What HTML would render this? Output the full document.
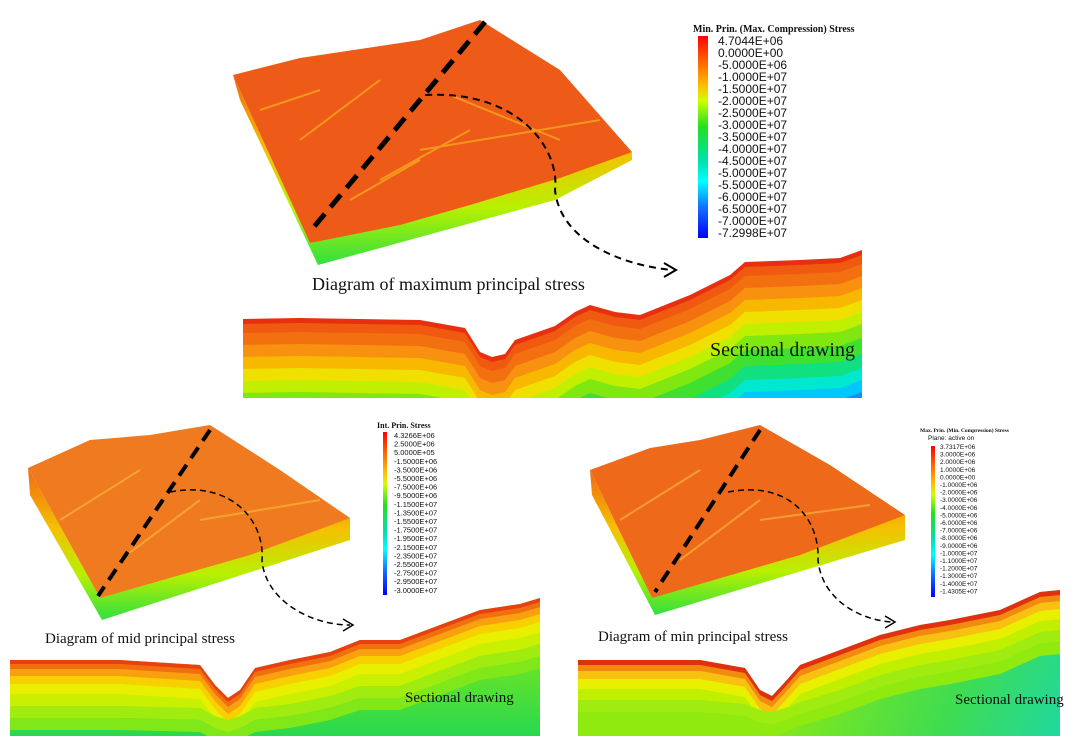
<!DOCTYPE html>
<html><head><meta charset="utf-8"><style>
html,body{margin:0;padding:0;background:#fff;width:1080px;height:747px;overflow:hidden}
svg{display:block}
.lg{font-family:"Liberation Sans",sans-serif;fill:#111}
.ti{font-family:"Liberation Serif",serif;font-weight:bold;fill:#111}
.cap{font-family:"Liberation Serif",serif;fill:#111}
</style></head><body>
<svg width="1080" height="747" viewBox="0 0 1080 747" xmlns="http://www.w3.org/2000/svg">
<defs>
<linearGradient id="side" x1="0" y1="0" x2="0" y2="1">
<stop offset="0" stop-color="#f06a10"/><stop offset="0.4" stop-color="#f5c000"/><stop offset="0.7" stop-color="#b8f000"/><stop offset="1" stop-color="#30e040"/></linearGradient>
<linearGradient id="bar1" x1="0" y1="0" x2="0" y2="1">
<stop offset="0" stop-color="#ff0000"/><stop offset="0.12" stop-color="#ff6000"/><stop offset="0.25" stop-color="#ffc000"/><stop offset="0.32" stop-color="#d0ff00"/><stop offset="0.45" stop-color="#20e020"/><stop offset="0.62" stop-color="#00e0b0"/><stop offset="0.72" stop-color="#00ffff"/><stop offset="0.85" stop-color="#1070ff"/><stop offset="1" stop-color="#0000ff"/></linearGradient>
<linearGradient id="bg2" gradientUnits="userSpaceOnUse" x1="0" y1="640" x2="0" y2="736">
<stop offset="0" stop-color="#80e818"/><stop offset="1" stop-color="#28d850"/></linearGradient>
<linearGradient id="bg3" gradientUnits="userSpaceOnUse" x1="800" y1="620" x2="1060" y2="740">
<stop offset="0" stop-color="#90ea10"/><stop offset="0.6" stop-color="#40dc50"/><stop offset="1" stop-color="#20d8a0"/></linearGradient>
<path id="p1" d="M243,319 L300,318 L420,320 L465,328 L480,352 L492,357 L505,354 L515,340 L555,326 L575,312 L590,305 L615,312 L640,315 L690,295 L730,275 L745,262 L800,260 L840,258 L862,250 L862,600 L243,600Z"/>
<path id="b2" d="M10,660 L120,660 L200,665 L215,685 L228,698 L240,690 L255,668 L290,660 L330,652 L360,640 L400,640 L440,625 L480,610 L520,604 L540,598 L540,610 L520,616 L480,622 L440,637 L400,652 L360,652 L330,664 L290,672 L255,680 L240,702 L228,710 L215,697 L200,677 L120,672 L10,672Z"/>
<path id="f2" d="M10,660 L120,660 L200,662 L215,670 L228,674 L240,670 L255,662 L290,658 L330,650 L360,640 L400,640 L440,625 L480,610 L520,604 L540,598 L540,610 L520,616 L480,622 L440,637 L400,652 L360,652 L330,662 L290,670 L255,674 L240,682 L228,686 L215,682 L200,674 L120,672 L10,672Z"/>
<path id="b3" d="M578,660 L700,660 L745,668 L760,690 L772,696 L785,682 L800,665 L840,650 L880,635 L920,625 L950,620 L1000,610 L1040,592 L1060,590 L1060,602 L1040,604 L1000,622 L950,632 L920,637 L880,647 L840,662 L800,677 L785,694 L772,708 L760,702 L745,680 L700,672 L578,672Z"/>
<path id="f3" d="M578,660 L700,660 L745,664 L760,670 L772,672 L785,668 L800,662 L840,650 L880,635 L920,625 L950,620 L1000,610 L1040,592 L1060,590 L1060,602 L1040,604 L1000,622 L950,632 L920,637 L880,647 L840,662 L800,674 L785,680 L772,684 L760,682 L745,676 L700,672 L578,672Z"/>
<clipPath id="c1"><rect x="243" y="240" width="619" height="158"/></clipPath>
<clipPath id="c2"><rect x="10" y="590" width="530" height="146"/></clipPath>
<clipPath id="c3"><rect x="578" y="585" width="482" height="151"/></clipPath>
</defs>

<polygon points="233,75 240,100 318,265 555,200 632,160 632,152 310,243" fill="url(#side)"/>
<polygon points="233,75 300,58 420,40 480,20 560,70 632,152 560,178 470,205 400,225 310,243" fill="#ee5a18"/>
<path d="M260,110 L320,90 M300,140 L380,80 M420,150 L600,120 M350,200 L420,160 M380,180 L470,130 M450,95 L560,140" stroke="#f8c020" stroke-width="2" fill="none" opacity="0.6"/>
<line x1="485" y1="22" x2="313" y2="228" stroke="#000" stroke-width="5" stroke-dasharray="16,9"/>
<path d="M425,95 C520,90 560,150 555,190 C560,240 620,265 672,270" stroke="#000" stroke-width="2" fill="none" stroke-dasharray="7,5"/>
<path d="M664,263 L676,270 L664,277" stroke="#000" stroke-width="2" fill="none"/>

<g clip-path="url(#c1)">
<use href="#p1" fill="#e83010"/>
<use href="#p1" fill="#f05a10" transform="translate(0,5)"/>
<use href="#p1" fill="#f27010" transform="translate(0,14)"/>
<use href="#p1" fill="#f89010" transform="translate(0,26)"/>
<use href="#p1" fill="#f8b800" transform="translate(0,38)"/>
<use href="#p1" fill="#f0e000" transform="translate(0,50)"/>
<use href="#p1" fill="#c0f000" transform="translate(0,62)"/>
<use href="#p1" fill="#80e810" transform="translate(0,74)"/>
<use href="#p1" fill="#40e030" transform="translate(0,88)"/>
<use href="#p1" fill="#10e080" transform="translate(0,104)"/>
<use href="#p1" fill="#00e8d0" transform="translate(0,118)"/>
<use href="#p1" fill="#00c8ff" transform="translate(0,130)"/>
<use href="#p1" fill="#1090ff" transform="translate(0,142)"/>
</g>
<text class="cap" x="312" y="290" font-size="18">Diagram of maximum principal stress</text>
<text class="cap" x="710" y="356" font-size="20">Sectional drawing</text>

<text class="ti" x="693" y="32" font-size="10">Min. Prin. (Max. Compression) Stress</text>
<rect x="698" y="36" width="10" height="202" fill="url(#bar1)"/>
<g class="lg" font-size="12">
<text x="718" y="45">4.7044E+06</text><text x="718" y="57">0.0000E+00</text><text x="718" y="69">-5.0000E+06</text><text x="718" y="81">-1.0000E+07</text><text x="718" y="93">-1.5000E+07</text><text x="718" y="105">-2.0000E+07</text><text x="718" y="117">-2.5000E+07</text><text x="718" y="129">-3.0000E+07</text><text x="718" y="141">-3.5000E+07</text><text x="718" y="153">-4.0000E+07</text><text x="718" y="165">-4.5000E+07</text><text x="718" y="177">-5.0000E+07</text><text x="718" y="189">-5.5000E+07</text><text x="718" y="201">-6.0000E+07</text><text x="718" y="213">-6.5000E+07</text><text x="718" y="225">-7.0000E+07</text><text x="718" y="237">-7.2998E+07</text>
</g>

<polygon points="28,468 30,495 102,620 350,540 350,518 100,598" fill="url(#side)"/>
<polygon points="28,468 90,440 150,435 210,425 280,470 350,518 250,555 100,598" fill="#ef7a20"/>
<path d="M60,520 L140,470 M120,560 L200,500 M200,520 L320,500" stroke="#f8c040" stroke-width="2" opacity="0.6" fill="none"/>
<line x1="210" y1="430" x2="98" y2="596" stroke="#000" stroke-width="4" stroke-dasharray="13,8"/>
<path d="M170,492 C230,480 265,520 262,560 C265,600 310,625 350,625" stroke="#000" stroke-width="1.5" fill="none" stroke-dasharray="6,4"/>
<path d="M343,619 L353,625 L343,631" stroke="#000" stroke-width="1.5" fill="none"/>
<g clip-path="url(#c2)">
<path d="M10,660 L120,660 L200,665 L215,685 L228,698 L240,690 L255,668 L290,660 L330,652 L360,640 L400,640 L440,625 L480,610 L520,604 L540,598 L540,736 L10,736Z" fill="url(#bg2)"/>
<use href="#b2" fill="#e84010"/>
<use href="#b2" fill="#f07010" transform="translate(0,4)"/>
<use href="#b2" fill="#f8a010" transform="translate(0,9)"/>
<use href="#b2" fill="#f8d000" transform="translate(0,16)"/>
<use href="#b2" fill="#e8f000" transform="translate(0,24)"/>
<use href="#b2" fill="#c8f000" transform="translate(0,34)"/>
<use href="#f2" fill="#a0ec10" transform="translate(0,46)"/>
<use href="#f2" fill="#80e818" transform="translate(0,58)"/>
</g>
<text class="cap" x="45" y="643" font-size="15">Diagram of mid principal stress</text>
<text class="cap" x="405" y="702" font-size="15">Sectional drawing</text>
<text class="ti" x="377" y="428" font-size="8">Int. Prin. Stress</text>
<rect x="383" y="432" width="4" height="163" fill="url(#bar1)"/>
<g class="lg" font-size="7.5">
<text x="394" y="438">4.3266E+06</text><text x="394" y="446.6">2.5000E+06</text><text x="394" y="455.2">5.0000E+05</text><text x="394" y="463.8">-1.5000E+06</text><text x="394" y="472.4">-3.5000E+06</text><text x="394" y="481">-5.5000E+06</text><text x="394" y="489.6">-7.5000E+06</text><text x="394" y="498.2">-9.5000E+06</text><text x="394" y="506.8">-1.1500E+07</text><text x="394" y="515.4">-1.3500E+07</text><text x="394" y="524">-1.5500E+07</text><text x="394" y="532.6">-1.7500E+07</text><text x="394" y="541.2">-1.9500E+07</text><text x="394" y="549.8">-2.1500E+07</text><text x="394" y="558.4">-2.3500E+07</text><text x="394" y="567">-2.5500E+07</text><text x="394" y="575.6">-2.7500E+07</text><text x="394" y="584.2">-2.9500E+07</text><text x="394" y="592.8">-3.0000E+07</text>
</g>

<polygon points="590,470 592,495 655,615 905,540 905,515 652,598" fill="url(#side)"/>
<polygon points="590,470 650,448 700,440 760,425 830,465 905,515 800,555 652,598" fill="#ee6a1a"/>
<path d="M620,520 L700,470 M680,560 L760,500 M760,520 L870,505" stroke="#f8c040" stroke-width="2" opacity="0.6" fill="none"/>
<line x1="760" y1="430" x2="655" y2="592" stroke="#000" stroke-width="4" stroke-dasharray="13,8"/>
<path d="M728,492 C790,480 820,520 818,560 C822,600 860,620 892,622" stroke="#000" stroke-width="1.5" fill="none" stroke-dasharray="6,4"/>
<path d="M885,616 L895,622 L885,628" stroke="#000" stroke-width="1.5" fill="none"/>
<g clip-path="url(#c3)">
<path d="M578,660 L700,660 L745,668 L760,690 L772,696 L785,682 L800,665 L840,650 L880,635 L920,625 L950,620 L1000,610 L1040,592 L1060,590 L1060,736 L578,736Z" fill="url(#bg3)"/>
<use href="#b3" fill="#e03010"/>
<use href="#b3" fill="#f28a10" transform="translate(0,5)"/>
<use href="#b3" fill="#f8c010" transform="translate(0,11)"/>
<use href="#b3" fill="#e8f000" transform="translate(0,19)"/>
<use href="#b3" fill="#c0f000" transform="translate(0,29)"/>
<use href="#f3" fill="#a0ec10" transform="translate(0,40)"/>
<use href="#f3" fill="#90ea10" transform="translate(0,52)"/>
</g>
<text class="cap" x="598" y="641" font-size="15">Diagram of min principal stress</text>
<text class="cap" x="955" y="704" font-size="15">Sectional drawing</text>
<text class="ti" x="920" y="432" font-size="5.5">Max. Prin. (Min. Compression) Stress</text>
<text class="lg" x="928" y="440" font-size="6.5">Plane: active on</text>
<rect x="931" y="446" width="4" height="151" fill="url(#bar1)"/>
<g class="lg" font-size="6.5">
<text x="940" y="449">3.7317E+06</text><text x="940" y="456.6">3.0000E+06</text><text x="940" y="464.2">2.0000E+06</text><text x="940" y="471.8">1.0000E+06</text><text x="940" y="479.4">0.0000E+00</text><text x="940" y="487">-1.0000E+06</text><text x="940" y="494.6">-2.0000E+06</text><text x="940" y="502.2">-3.0000E+06</text><text x="940" y="509.8">-4.0000E+06</text><text x="940" y="517.4">-5.0000E+06</text><text x="940" y="525">-6.0000E+06</text><text x="940" y="532.6">-7.0000E+06</text><text x="940" y="540.2">-8.0000E+06</text><text x="940" y="547.8">-9.0000E+06</text><text x="940" y="555.4">-1.0000E+07</text><text x="940" y="563">-1.1000E+07</text><text x="940" y="570.6">-1.2000E+07</text><text x="940" y="578.2">-1.3000E+07</text><text x="940" y="585.8">-1.4000E+07</text><text x="940" y="593.4">-1.4305E+07</text>
</g>
</svg>
</body></html>
